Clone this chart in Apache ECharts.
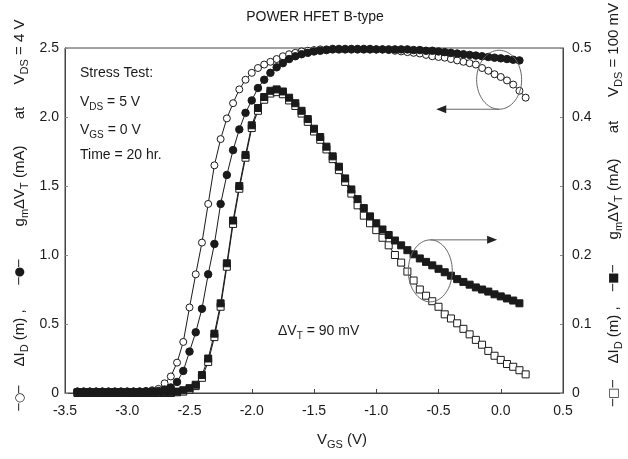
<!DOCTYPE html>
<html><head><meta charset="utf-8">
<script src="https://cdn.jsdelivr.net/npm/echarts@6/dist/echarts.min.js"></script>
<style>html,body{margin:0;padding:0;background:#fff}#c{width:628px;height:459px}</style>
</head><body><div id="c"></div>
<script>
// ---------- data ----------
const vgs = [-3.40,-3.35,-3.30,-3.25,-3.20,-3.15,-3.10,-3.05,-3.00,-2.95,-2.90,-2.85,-2.80,-2.75,-2.70,-2.65,-2.60,-2.55,-2.50,-2.45,-2.40,-2.35,-2.30,-2.25,-2.20,-2.15,-2.10,-2.05,-2.00,-1.95,-1.90,-1.85,-1.80,-1.75,-1.70,-1.65,-1.60,-1.55,-1.50,-1.45,-1.40,-1.35,-1.30,-1.25,-1.20,-1.15,-1.10,-1.05,-1.00,-0.95,-0.90,-0.85,-0.80,-0.75,-0.70,-0.65,-0.60,-0.55,-0.50,-0.45,-0.40,-0.35,-0.30,-0.25,-0.20,-0.15,-0.10,-0.05,0.00,0.05,0.10,0.15,0.20];
// open circles: dI_D at VDS = 4 V (left axis)
const dIdHigh = [0.01,0.01,0.01,0.01,0.01,0.01,0.01,0.01,0.01,0.01,0.012,0.015,0.02,0.03,0.07,0.12,0.22,0.37,0.62,0.86,1.09,1.37,1.65,1.84,1.99,2.10,2.20,2.27,2.32,2.355,2.38,2.40,2.42,2.44,2.455,2.465,2.475,2.48,2.485,2.49,2.49,2.495,2.495,2.495,2.495,2.495,2.495,2.495,2.49,2.49,2.485,2.48,2.475,2.47,2.465,2.46,2.45,2.44,2.435,2.43,2.42,2.41,2.40,2.39,2.38,2.355,2.335,2.31,2.29,2.265,2.235,2.19,2.14];
// filled circles: gm*dVT at VDS = 4 V (left axis)
const gmHigh = [0.01,0.01,0.01,0.01,0.01,0.01,0.01,0.01,0.01,0.01,0.01,0.01,0.012,0.015,0.025,0.04,0.08,0.16,0.30,0.44,0.61,0.86,1.08,1.37,1.58,1.76,1.91,2.03,2.12,2.21,2.27,2.32,2.36,2.39,2.42,2.44,2.455,2.465,2.475,2.48,2.485,2.49,2.49,2.49,2.49,2.49,2.49,2.49,2.49,2.49,2.49,2.49,2.49,2.49,2.485,2.485,2.48,2.48,2.475,2.47,2.465,2.46,2.455,2.45,2.445,2.44,2.435,2.43,2.425,2.42,2.415,2.41,null];
// open squares: dI_D at VDS = 100 mV (right axis)
const dIdLow = [0,0,0,0,0,0,0,0,0,0,0,0,0,0,0,0,0.001,0.002,0.005,0.01,0.022,0.045,0.081,0.125,0.183,0.245,0.296,0.341,0.384,0.409,0.425,0.434,0.436,0.433,0.424,0.416,0.405,0.393,0.379,0.367,0.353,0.339,0.323,0.306,0.289,0.272,0.257,0.246,0.236,0.225,0.214,0.200,0.189,0.176,0.163,0.150,0.141,0.133,0.125,0.114,0.108,0.101,0.093,0.085,0.077,0.070,0.061,0.054,0.048,0.042,0.038,0.033,0.027];
// filled squares: gm*dVT at VDS = 100 mV (right axis)
const gmLow = [0.001,0.001,0.001,0.001,0.001,0.001,0.001,0.001,0.001,0.001,0.001,0.001,0.001,0.001,0.001,0.001,0.002,0.004,0.007,0.012,0.026,0.05,0.086,0.13,0.188,0.25,0.30,0.345,0.388,0.413,0.429,0.438,0.44,0.437,0.428,0.42,0.409,0.397,0.383,0.371,0.357,0.343,0.328,0.311,0.295,0.281,0.268,0.256,0.246,0.237,0.229,0.221,0.214,0.207,0.201,0.195,0.19,0.185,0.18,0.175,0.17,0.165,0.161,0.157,0.153,0.15,0.147,0.143,0.14,0.137,0.134,0.13,null];
const xTicks = [-3.5,-3.0,-2.5,-2.0,-1.5,-1.0,-0.5,0.0,0.5];
const leftTicks = [0,0.5,1.0,1.5,2.0,2.5];
const rightTicks = [0,0.1,0.2,0.3,0.4,0.5];

// ---------- chart ----------
const FONT = '"Liberation Sans", Arial, Helvetica, sans-serif';
const INK = '#1a1a1a';
const pairs = arr => vgs.map((x, i) => [x, arr[i]]).filter(p => p[1] !== null);
const fmt0 = v => (Math.abs(v) < 1e-9 ? '0' : v.toFixed(1));

function lineSeries(name, data, yIdx, symbol, filled, size) {
  return {
    name, type: 'line', yAxisIndex: yIdx, data: pairs(data),
    symbol, symbolSize: size, showSymbol: true, showAllSymbol: true,
    lineStyle: { color: INK, width: 1 },
    itemStyle: { color: filled ? INK : '#fff', borderColor: INK, borderWidth: 1 },
    emphasis: { disabled: true }, animation: false, clip: false
  };
}

const chart = echarts.init(document.getElementById('c'), null, { renderer: 'canvas' });
const option = {
  backgroundColor: '#fff',
  animation: false,
  textStyle: { fontFamily: FONT },
  grid: { left: 65, right: 65, top: 48, bottom: 66, show: true, borderColor: '#444', borderWidth: 1 },
  xAxis: {
    type: 'value', min: xTicks[0], max: xTicks[xTicks.length - 1], interval: 0.5,
    axisLine: { show: true, onZero: false, lineStyle: { color: '#444', width: 1 } },
    axisTick: { show: true, inside: true, length: 4, lineStyle: { color: '#444' } },
    axisLabel: { color: INK, fontSize: 14, fontFamily: FONT, margin: 11, formatter: v => v.toFixed(1) },
    splitLine: { show: false }
  },
  yAxis: [
    {
      type: 'value', min: leftTicks[0], max: leftTicks[leftTicks.length - 1], interval: 0.5,
      axisLine: { show: true, onZero: false, lineStyle: { color: '#444' } },
      axisTick: { show: true, inside: true, length: 3, lineStyle: { color: '#888' } },
      axisLabel: { color: INK, fontSize: 14, fontFamily: FONT, margin: 6, formatter: fmt0 },
      splitLine: { show: false }
    },
    {
      type: 'value', min: rightTicks[0], max: rightTicks[rightTicks.length - 1], interval: 0.1,
      position: 'right',
      axisLine: { show: true, onZero: false, lineStyle: { color: '#444' } },
      axisTick: { show: true, inside: true, length: 3, lineStyle: { color: '#888' } },
      axisLabel: { color: INK, fontSize: 14, fontFamily: FONT, margin: 9, formatter: fmt0 },
      splitLine: { show: false }
    }
  ],
  series: [
    lineSeries('dId low', dIdLow, 1, 'rect', false, 7),
    lineSeries('gm low', gmLow, 1, 'rect', true, 7),
    lineSeries('dId high', dIdHigh, 0, 'circle', false, 7),
    lineSeries('gm high', gmHigh, 0, 'circle', true, 7.5)
  ]
};
chart.setOption(option);

// ---------- annotations ----------
const R = {
  n: { fontSize: 14, fontFamily: FONT, color: INK, lineHeight: 20, verticalAlign: 'middle' },
  s: { fontSize: 10, fontFamily: FONT, color: INK, lineHeight: 10, verticalAlign: 'bottom' },
  N: { fontSize: 15, fontFamily: FONT, color: INK, lineHeight: 21, verticalAlign: 'middle' },
  S: { fontSize: 11, fontFamily: FONT, color: INK, lineHeight: 10, verticalAlign: 'bottom' },
  k: { fontSize: 12, fontFamily: 'DejaVu Sans', color: INK, lineHeight: 20, verticalAlign: 'middle' }
};
function txt(x, y, text, rot, align) {
  return {
    type: 'text', x, y, rotation: rot || 0, silent: true, z: 100,
    style: {
      text, rich: R, font: '14px ' + FONT, fill: INK,
      align: align || 'center', verticalAlign: 'middle',
      textAlign: align || 'center', textVerticalAlign: 'middle'
    }
  };
}
const ROT = Math.PI / 2;
const px = (x, y, yi) => chart.convertToPixel({ xAxisIndex: 0, yAxisIndex: yi }, [x, y]);

const e1 = px(-0.013, 2.27, 0), e1r = [22.5, 29.5];
const e2 = px(-0.566, 0.177, 1), e2r = [22, 31];
const a1tip = px(-0.518, 0, 1)[0];
const a2tip = px(-0.029, 0, 1)[0];
const a1y = e1[1] + e1r[1];
const a2y = e2[1] - e2r[1];

const g = [
  txt(315, 17, '{n|POWER HFET B-type}', 0),
  txt(80, 73, '{n|Stress Test:}', 0, 'left'),
  txt(80, 102, '{n|V}{s|DS}{n| = 5 V}', 0, 'left'),
  txt(80, 130, '{n|V}{s|GS}{n| = 0 V}', 0, 'left'),
  txt(80, 155, '{n|Time = 20 hr.}', 0, 'left'),
  txt(278, 331, '{n|\u0394V}{s|T}{n| = 90 mV}', 0, 'left'),
  txt(342, 440, '{N|V}{S|GS}{N| (V)}', 0),
  // left axis title pieces
  txt(20, 398, '{k|\u2500\u25CB\u2500}', ROT),
  txt(20, 338, '{N|\u0394I}{S|D}{N| (m) ,}', ROT),
  txt(20, 272, '{k|\u2500\u25CF\u2500}', ROT),
  txt(20, 186, '{N|g}{S|m}{N|\u0394V}{S|T}{N| (mA)}', ROT),
  txt(20, 113, '{N|at}', ROT),
  txt(20, 52, '{N|V}{S|DS}{N| = 4 V}', ROT),
  // right axis title pieces
  txt(614, 393, '{k|\u2500\u25A1\u2500}', ROT),
  txt(614, 335, '{N|\u0394I}{S|D}{N| (m) ,}', ROT),
  txt(614, 278, '{k|\u2500\u25A0\u2500}', ROT),
  txt(614, 199, '{N|g}{S|m}{N|\u0394V}{S|T}{N| (mA)}', ROT),
  txt(614, 127, '{N|at}', ROT),
  txt(614, 50, '{N|V}{S|DS}{N| = 100 mV}', ROT),
  // ellipses + arrows
  { type: 'ellipse', silent: true, z: 90, shape: { cx: e1[0], cy: e1[1], rx: e1r[0], ry: e1r[1] },
    style: { fill: 'none', stroke: '#666', lineWidth: 1 } },
  { type: 'line', silent: true, z: 90, shape: { x1: e1[0], y1: a1y, x2: a1tip + 8, y2: a1y },
    style: { stroke: '#666', lineWidth: 1 } },
  { type: 'polygon', silent: true, z: 90, shape: { points: [[a1tip, a1y], [a1tip + 10, a1y - 4], [a1tip + 10, a1y + 4]] },
    style: { fill: '#222' } },
  { type: 'ellipse', silent: true, z: 90, shape: { cx: e2[0], cy: e2[1], rx: e2r[0], ry: e2r[1] },
    style: { fill: 'none', stroke: '#666', lineWidth: 1 } },
  { type: 'line', silent: true, z: 90, shape: { x1: e2[0], y1: a2y, x2: a2tip - 8, y2: a2y },
    style: { stroke: '#666', lineWidth: 1 } },
  { type: 'polygon', silent: true, z: 90, shape: { points: [[a2tip, a2y], [a2tip - 10, a2y - 4], [a2tip - 10, a2y + 4]] },
    style: { fill: '#222' } }
];
chart.setOption({ graphic: { elements: g } });
</script>
</body></html>
